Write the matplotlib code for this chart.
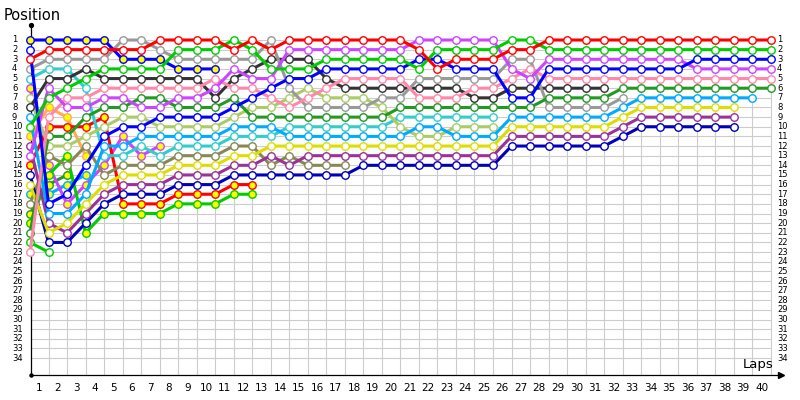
#lap chart: position of every car at the end of each lap (lap 0 = grid)
import matplotlib
matplotlib.use('Agg')
import matplotlib.pyplot as plt
import numpy as np

n_laps=40
n_pos=34
lap_labels=[str(n) for n in range(1,n_laps+1)]
pos_labels=[str(n) for n in range(1,n_pos+1)]

#positions per lap, list stops when the car drops out
red=[3,2,2,2,2,2,2,1,1,1,1,2,1,2,1,1,1,1,1,1,1,2,4,3,3,3,2,2,1,1,1,1,1,1,1,1,1,1,1,1,1]
green=[10,7,6,5,4,4,4,4,2,2,2,1,2,4,4,4,3,3,3,3,3,4,2,2,2,2,1,1,2,2,2,2,2,2,2,2,2,2,2,2,2]
blue=[2,18,17,14,11,10,10,9,9,9,9,8,7,6,5,5,4,4,4,4,4,3,3,4,4,4,7,7,4,4,4,4,4,4,4,4,3,3,3,3,3]
magenta=[13,6,8,8,7,7,8,8,7,7,6,4,5,5,2,2,2,2,2,2,2,1,1,1,1,1,4,5,3,3,3,3,3,3,3,3,4,4,4,4,4]
pink=[23,9,7,7,6,6,6,6,6,6,5,6,6,7,8,7,6,5,5,5,5,7,7,7,6,6,5,4,5,5,5,5,5,5,5,5,5,5,5,5,5]
dkgreen=[21,11,11,9,8,8,7,7,8,8,8,7,9,9,9,9,9,9,9,9,8,8,8,8,8,8,8,8,7,7,7,7,6,6,6,6,6,6,6,6,6]
ltblue=[9,19,19,17,12,12,11,11,11,11,11,10,10,10,11,11,11,11,11,11,11,10,10,11,11,11,9,9,9,9,9,9,8,7,7,7,7,7,7,7]
yellow=[16,21,20,18,16,15,15,15,14,14,14,13,13,12,12,12,12,12,12,12,12,12,12,12,12,12,10,10,10,10,10,10,9,8,8,8,8,8,8]
purple=[12,20,21,19,17,16,16,16,15,15,15,14,14,13,14,13,13,13,13,13,13,13,13,13,13,13,11,11,11,11,11,11,10,9,9,9,9,9,9]
dkblue=[15,22,22,20,18,17,17,17,16,16,16,15,15,15,15,15,15,15,14,14,14,14,14,14,14,14,12,12,12,12,12,12,11,10,10,10,10,10,10]
gray=[4,3,3,3,3,1,1,2,3,3,3,3,3,1,6,8,8,8,8,7,7,5,5,5,5,5,3,3,8,8,8,8,7]
black=[8,5,5,4,5,5,5,5,5,5,7,5,4,3,3,3,5,6,6,6,6,6,6,6,7,7,6,6,6,6,6,6]
ltgreen=[7,12,12,11,10,9,9,10,10,10,10,9,8,8,7,6,7,7,7,8,10,11,11,10,10,10]
cyan=[5,4,4,6,13,13,12,13,12,12,12,11,11,11,10,10,10,10,10,10,9,9,9,9,9,9]
olive=[18,13,14,12,15,14,14,14,13,13,13,12,12,14,13,14,14,14]
blue_y=[1,1,1,1,1,3,3,3,4,4,4]
red_y=[14,10,10,10,9,18,18,18,17,17,17,16,16]
green_y=[20,15,13,21,19,19,19,19,18,18,18,17,17]
magenta_y=[6,14,18,16,14,11,13,12]
orange_y=[11,8,9,13]
ltblue_y=[17,17,16,15]
dkgreen_y=[19,16,15]
green2=[22,23]

#(positions, line colour, marker fill) drawn back to front
cars=[(green2,'#00cc00','white'),(dkgreen_y,'#229922','#ffff00'),(ltblue_y,'#00aaff','#ffff00'),
      (orange_y,'#ffaa55','#ffff00'),(magenta_y,'#cc44ff','#ffff00'),(green_y,'#00cc00','#ffff00'),
      (red_y,'#ff0000','#ffff00'),(olive,'#888855','white'),(cyan,'#33cccc','white'),
      (ltgreen,'#aacc66','white'),(black,'#333333','white'),(gray,'#999999','white'),
      (dkblue,'#0000bb','white'),(purple,'#993399','white'),(yellow,'#dddd00','white'),
      (ltblue,'#00aaff','white'),(dkgreen,'#229922','white'),(pink,'#ff88aa','white'),
      (blue_y,'#0000ff','#ffff00'),(magenta,'#cc44ff','white'),(blue,'#0000ff','white'),
      (green,'#00cc00','white'),(red,'#ff0000','white')]

def pad(vals):
    arr=np.full(n_laps+1,np.nan)
    arr[:len(vals)]=vals
    return arr

#one data unit = one lap (18.52px) / one position (9.64px)
dx=18.52
dy=9.64
fig=plt.figure(figsize=(8,4),dpi=100)
ax=fig.add_axes([0,0,1,1])
ax.set_xlim(-30/dx,(800-30)/dx)
ax.set_ylim(1+360/dy,1-40/dy)
ax.axis('off')

x0=1/dx
y_top=1-15/dy
y_bot=1+335/dy

#grid
ax.hlines(range(1,n_pos+1),x0,n_laps,color='#cccccc',lw=0.8,zorder=1)
ax.vlines(range(1,n_laps+1),1,y_bot,color='#cccccc',lw=0.8,zorder=1)

#axes with end marks
ax.plot([x0,x0],[y_top,y_bot],color='black',lw=0.9,zorder=2)
ax.plot([x0,(778-30)/dx],[y_bot,y_bot],color='black',lw=0.9,zorder=2)
ax.plot(x0,y_top,'o',color='black',ms=2.8,zorder=2)
ax.plot(x0,y_bot,'o',color='black',ms=2.2,zorder=2)
ax.plot((781-30)/dx,y_bot,'>',color='black',ms=5,zorder=2)

laps=np.arange(n_laps+1)
for z,(vals,col,face) in enumerate(cars):
    ax.plot(laps,pad(vals),'-',color=col,lw=2.2,marker='o',ms=5.4,mfc=face,mec=col,mew=1.0,
            zorder=3+z,solid_capstyle='round')

#labels
for n,lab in enumerate(pos_labels):
    ax.text((12-30)/dx,n+1,lab,ha='left',va='center',fontsize=6)
    ax.text((777-30)/dx,n+1,lab,ha='left',va='center',fontsize=6)
for n,lab in enumerate(lap_labels):
    ax.text(n+0.5,1+348/dy,lab,ha='center',va='center',fontsize=7.5)
ax.text((4-30)/dx,1-25/dy,'Position',ha='left',va='center',fontsize=10.5)
ax.text((774-30)/dx,1+328/dy,'Laps',ha='right',va='baseline',fontsize=9.5)

plt.savefig('out.png',dpi=100)
